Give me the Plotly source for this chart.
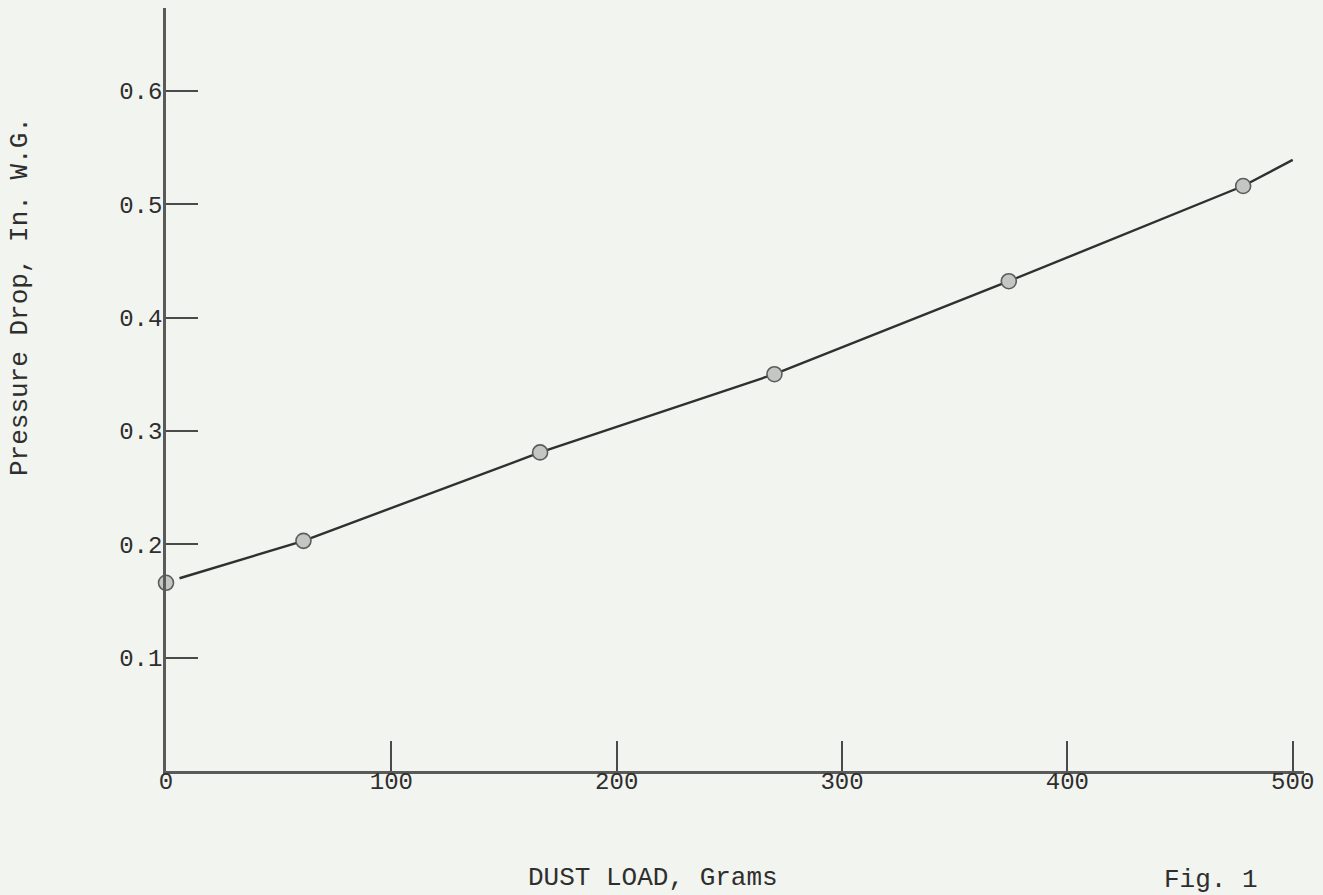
import plotly.graph_objects as go

# Data
dust_load = [0, 61, 166, 270, 374, 478]            # grams
pressure_drop = [0.166, 0.203, 0.281, 0.350, 0.432, 0.516]  # in. W.G.

# Hand-drawn curve through the points (as traced)
curve_x = [6, 61, 166, 270, 374, 478, 500]
curve_y = [0.170, 0.203, 0.281, 0.350, 0.432, 0.516, 0.539]

x_ticks = [0, 100, 200, 300, 400, 500]
x_tick_labels = ["0", "100", "200", "300", "400", "500"]
y_ticks = [0.1, 0.2, 0.3, 0.4, 0.5, 0.6]
y_tick_labels = ["0.1", "0.2", "0.3", "0.4", "0.5", "0.6"]

FONT = "Liberation Mono, Courier New, monospace"
BG = "#f2f4ef"
AX = "#5a5a5a"
TXT = "#2e2e2e"

W, H = 1323, 895
L, R, T, B = 166, 19, 8, 124
pw, ph = W - L - R, H - T - B

def px(xp):
    return (xp - L) / pw

def py(yp):
    return (H - B - yp) / ph

fig = go.Figure()
fig.add_trace(go.Scatter(
    x=curve_x, y=curve_y, mode="lines",
    line=dict(color="#303030", width=2.4),
    hoverinfo="skip", showlegend=False, cliponaxis=False))
fig.add_trace(go.Scatter(
    x=dust_load, y=pressure_drop, mode="markers",
    marker=dict(size=15, color="#c4c6c2", line=dict(color="#5c5c5c", width=1.6)),
    showlegend=False, cliponaxis=False))

fig.update_layout(
    width=W, height=H,
    margin=dict(l=L, r=R, t=T, b=B),
    paper_bgcolor=BG, plot_bgcolor=BG,
    font=dict(family=FONT, color=TXT, size=24),
    xaxis=dict(
        range=[0, 505], tickvals=x_ticks, ticktext=x_tick_labels,
        ticks="inside", ticklen=30, tickwidth=2, tickcolor="#4a4a4a",
        showline=True, linecolor=AX, linewidth=2.5,
        showgrid=False, zeroline=False, ticklabelstandoff=-14,
        tickfont=dict(family=FONT, size=24, color=TXT),
    ),
    yaxis=dict(
        range=[0, 0.673], tickvals=y_ticks, ticktext=y_tick_labels,
        ticks="inside", ticklen=32, tickwidth=2, tickcolor="#4a4a4a",
        showline=True, linecolor=AX, linewidth=2.5,
        showgrid=False, zeroline=False, ticklabelstandoff=-4,
        tickfont=dict(family=FONT, size=24, color=TXT),
    ),
    annotations=[
        dict(text="Pressure Drop, In. W.G.", x=px(20), y=py(297),
             xref="paper", yref="paper", showarrow=False, textangle=-90,
             xanchor="center", yanchor="middle",
             font=dict(family=FONT, size=26, color=TXT)),
        dict(text="DUST LOAD, Grams", x=px(653), y=py(878),
             xref="paper", yref="paper", showarrow=False,
             xanchor="center", yanchor="middle",
             font=dict(family=FONT, size=26, color=TXT)),
        dict(text="Fig. 1", x=px(1211), y=py(880),
             xref="paper", yref="paper", showarrow=False,
             xanchor="center", yanchor="middle",
             font=dict(family=FONT, size=26, color=TXT)),
    ],
)

fig.write_html(
    "out.html",
    config={"displayModeBar": False},
    post_script="document.body.style.margin='0';document.body.style.overflow='hidden';"
                "document.body.style.background='" + BG + "';",
)
